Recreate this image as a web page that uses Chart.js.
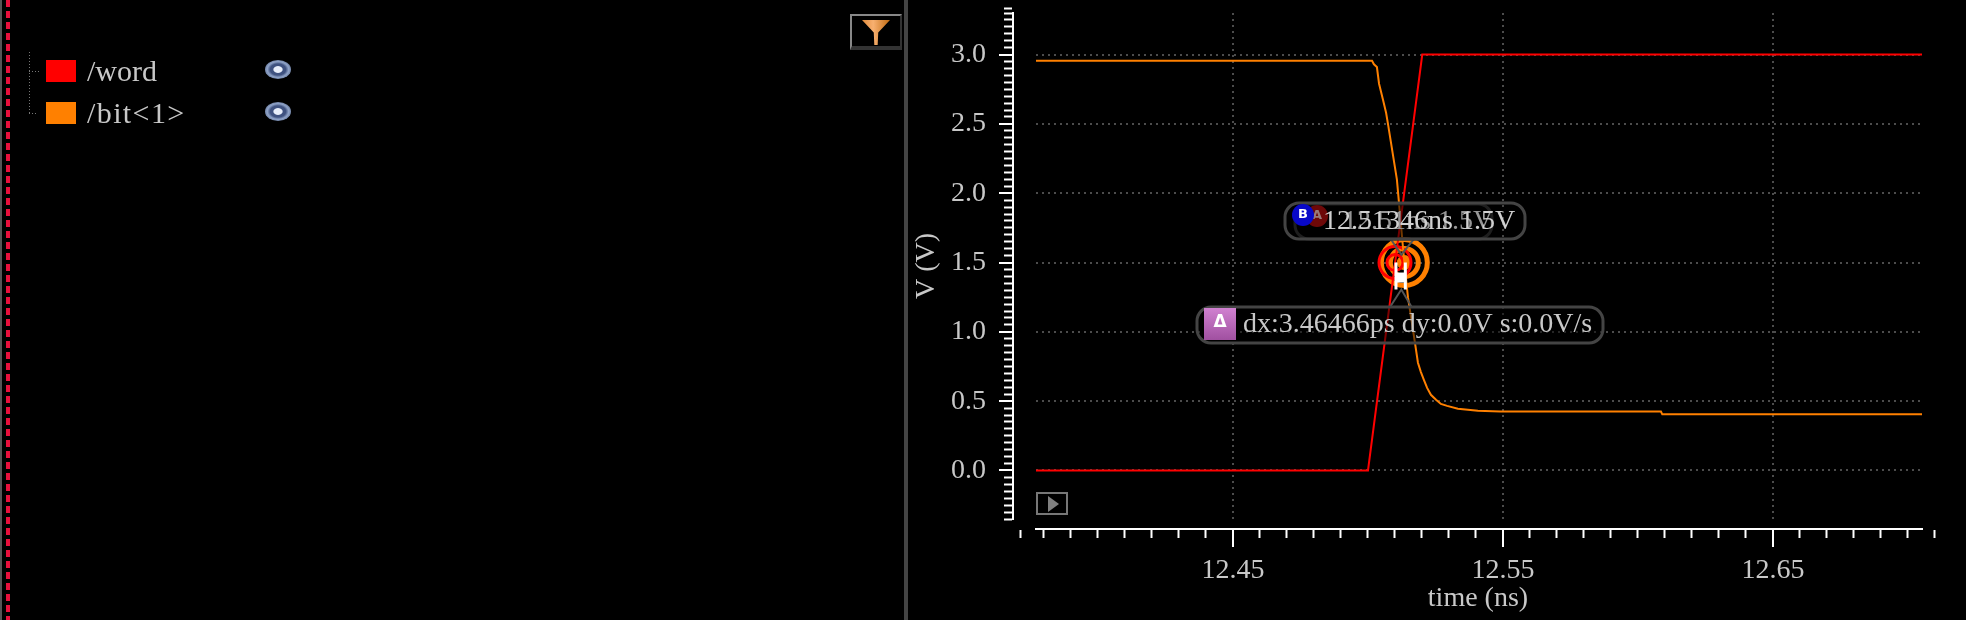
<!DOCTYPE html>
<html><head><meta charset="utf-8">
<style>
html,body{margin:0;padding:0;background:#000;overflow:hidden}
#wrap{position:relative;width:1966px;height:620px;background:#000}
canvas#c{position:absolute;left:0;top:0}
.abs{position:absolute}
.t{position:absolute;font:30px "Liberation Serif",serif;color:#c8c8c8;white-space:pre;line-height:32px}
</style>
<script src="https://cdn.jsdelivr.net/npm/chart.js@4/dist/chart.umd.min.js"></script>
</head><body><div id="wrap"><canvas id="c" width="1966" height="620"></canvas></div>
<script>
const seriesNames = ['/word','/bit<1>'];
const seriesColors = ['#ff0000','#ff8000'];
const wordT = [12.37704,12.5,12.5201,12.70519];
const wordV = [0,0,3,3];
const bitT = [12.37704,12.5015,12.5022,12.5033,12.5041,12.5056,12.5067,12.5074,12.5107,12.51346,12.5148,12.5174,12.5185,12.5196,12.5207,12.5219,12.5233,12.5252,12.527,12.5293,12.5333,12.5407,12.549,12.6085,12.609,12.70519];
const bitV = [2.955,2.955,2.93,2.91,2.79,2.67,2.58,2.5,2.1,1.5,1.25,0.92,0.777,0.71,0.654,0.596,0.546,0.51,0.48,0.466,0.445,0.43,0.425,0.425,0.405,0.405];
const xMajor = [12.45,12.55,12.65];
const xMinor = [12.3713,12.38,12.39,12.40,12.41,12.42,12.43,12.44,12.46,12.47,12.48,12.49,12.50,12.51,12.52,12.53,12.54,12.56,12.57,12.58,12.59,12.60,12.61,12.62,12.63,12.64,12.66,12.67,12.68,12.69,12.70,12.71];
const yMajor = [0,0.5,1,1.5,2,2.5,3];
const yMinor = [-0.35,-0.3,-0.25,-0.2,-0.15,-0.1,-0.05,0.05,0.1,0.15,0.2,0.25,0.3,0.35,0.4,0.45,0.55,0.6,0.65,0.7,0.75,0.8,0.85,0.9,0.95,1.05,1.1,1.15,1.2,1.25,1.3,1.35,1.4,1.45,1.55,1.6,1.65,1.7,1.75,1.8,1.85,1.9,1.95,2.05,2.1,2.15,2.2,2.25,2.3,2.35,2.4,2.45,2.55,2.6,2.65,2.7,2.75,2.8,2.85,2.9,2.95,3.05,3.1,3.15,3.2,3.25,3.3,3.335];
const cursorA = {t:12.51, v:1.5};
const cursorB = {t:12.51346, v:1.5};
const labelA = '12.51ns 1.5V';
const labelB = '12.51346ns 1.5V';
const labelD = 'dx:3.46466ps dy:0.0V s:0.0V/s';
const xTitle = 'time (ns)', yTitle = 'V (V)';
const X_MIN=12.37704, X_MAX=12.70519, Y_MIN=-0.35, Y_MAX=3.3;
const X_AXIS_AT=-0.421, Y_AXIS_AT=12.36852, Y_LABELS_AT=12.35852;

const wrap=document.getElementById('wrap');
function box(css){const d=document.createElement('div');d.className='abs';d.style.cssText+=css;wrap.appendChild(d);return d;}
box('left:0;top:0;width:2px;height:620px;background:#555');
box('left:6px;top:0;width:4px;height:620px;background:repeating-linear-gradient(#e8103c 0 7px,transparent 7px 11px)');
box('left:904px;top:0;width:4px;height:620px;background:#444');
const dotV='repeating-linear-gradient(#777 0 1px,transparent 1px 3px)', dotH='repeating-linear-gradient(90deg,#777 0 1px,transparent 1px 3px)';
box(`left:29px;top:52px;width:1px;height:61px;background:${dotV}`);
box(`left:29px;top:71px;width:11px;height:1px;background:${dotH}`);
box(`left:29px;top:113px;width:9px;height:1px;background:${dotH}`);
seriesNames.forEach((n,i)=>{
  const y=60+i*42;
  box(`left:46px;top:${y}px;width:30px;height:22px;background:${seriesColors[i]}`);
  const t=document.createElement('div');t.className='t';t.textContent=n;t.style.left='87px';t.style.top=(y-5)+'px';
  if(i===1)t.style.letterSpacing='1.4px';
  wrap.appendChild(t);
  box(`left:265px;top:${y}px;width:26px;height:19px;border-radius:50%;background:radial-gradient(ellipse at center,#e8eefa 0 22%,#3f5280 28% 42%,#8fa3c8 58%,#33415f 100%)`);
});
box('left:1036px;top:492px;width:28px;height:19px;border:2px solid #777');
box('left:1048px;top:496px;width:0;height:0;border-left:11px solid #808080;border-top:8px solid transparent;border-bottom:8px solid transparent');
box('left:850px;top:14px;width:48px;height:30px;border:2px solid #333;border-left-color:#888;border-top-color:#888;border-bottom:4px solid #333;background:#000');
box('left:862px;top:20px;width:28px;height:25px;background:linear-gradient(90deg,#e08a3a,#f8b070 40%,#c06a10);clip-path:polygon(0 0,100% 0,58% 50%,56% 100%,44% 100%,42% 50%)');

function pill(ctx,x,y,w,h,r,fill,stroke){
  ctx.beginPath();ctx.roundRect(x,y,w,h,r);ctx.fillStyle=fill;ctx.fill();ctx.lineWidth=3;ctx.strokeStyle=stroke;ctx.stroke();
}
function ball(ctx,x,y,r,col,letter,tcol){
  ctx.beginPath();ctx.arc(x,y,r,0,Math.PI*2);ctx.fillStyle=col;ctx.fill();
  ctx.fillStyle=tcol;ctx.font='bold 13px "DejaVu Sans"';ctx.textAlign='center';ctx.textBaseline='middle';ctx.fillText(letter,x,y);
}
const overlay={id:'overlay',afterDatasetsDraw(ch){
  const ctx=ch.ctx,sx=ch.scales.x,sy=ch.scales.y,ca=ch.chartArea;
  const ax=sx.getPixelForValue(cursorA.t),bx=sx.getPixelForValue(cursorB.t),cy=sy.getPixelForValue(cursorA.v);
  ctx.save();
  ctx.strokeStyle='#fff';ctx.lineWidth=3;ctx.beginPath();ctx.moveTo(ax+1,cy);ctx.lineTo(ax+1,cy+27);ctx.moveTo(bx+1,cy);ctx.lineTo(bx+1,cy+27);ctx.stroke();
  ctx.fillStyle='#fff';ctx.fillRect(ax+1,cy+10,bx-ax,10);
  ctx.strokeStyle='#555';ctx.lineWidth=2;ctx.beginPath();ctx.moveTo(bx-14,cy+44);ctx.lineTo(bx-3,cy+27);ctx.lineTo(bx+7,cy+44);ctx.stroke();
  ctx.beginPath();ctx.moveTo(bx-14,cy-24);ctx.lineTo(bx-3,cy-8);ctx.lineTo(bx+10,cy-24);ctx.stroke();
  pill(ctx,1295,204,197,35,14,'rgba(0,0,0,.5)','#222');
  ball(ctx,1317,216,11,'#7a0a0a','A','#a88');
  ctx.font='28px "Liberation Serif"';ctx.textAlign='left';ctx.textBaseline='middle';
  ctx.fillStyle='#a8a8a8';ctx.fillText(labelA,1343,222);
  pill(ctx,1285,203,240,36,14,'rgba(0,0,0,.1)','#444');
  ball(ctx,1303,215,11,'#0808c8','B','#fff');
  ctx.font='28px "Liberation Serif"';ctx.textAlign='left';ctx.textBaseline='middle';
  ctx.fillStyle='#d0d0d0';ctx.fillText(labelB,1323,222);
  pill(ctx,1197,307,406,36,14,'rgba(0,0,0,.5)','#444');
  const g=ctx.createLinearGradient(0,308,0,340);g.addColorStop(0,'#d080d0');g.addColorStop(1,'#a050a0');
  ctx.fillStyle=g;ctx.fillRect(1204,308,32,32);
  ctx.fillStyle='#fff';ctx.font='bold 17px "DejaVu Sans"';ctx.textAlign='center';ctx.fillText('\u0394',1220,323);
  ctx.font='28px "Liberation Serif"';ctx.textAlign='left';ctx.fillStyle='#c8c8c8';ctx.fillText(labelD,1243,325);
  ctx.font='28px "Liberation Serif"';ctx.textAlign='center';ctx.fillStyle='#c8c8c8';
  ctx.fillText(xTitle,(ca.left+ca.right)/2-1,599);
  ctx.translate(927,(ca.top+ca.bottom)/2);ctx.rotate(-Math.PI/2);ctx.fillText(yTitle,0,0);
  ctx.restore();
}};
function ring(t,v,r,w,color,fill){
  return {data:[{x:t,y:v}],showLine:false,pointRadius:r,pointHoverRadius:r,pointBorderWidth:w,pointBorderColor:color,pointBackgroundColor:fill||'transparent'};
}
function zip(a,b){return a.map((t,i)=>({x:t,y:b[i]}));}
const font={family:'"Liberation Serif"',size:28};
new Chart(document.getElementById('c'),{
  type:'line',
  plugins:[overlay],
  data:{datasets:[
    {data:zip(wordT,wordV),borderColor:seriesColors[0],borderWidth:2,pointRadius:0,tension:0},
    {data:zip(bitT,bitV),borderColor:seriesColors[1],borderWidth:2,pointRadius:0,tension:0},
    ring(cursorA.t,cursorA.v,16,3,seriesColors[0]),
    ring(cursorA.t,cursorA.v,8,3,seriesColors[0]),
    ring(cursorB.t,cursorB.v,23,5,seriesColors[1]),
    ring(cursorB.t,cursorB.v,14,5,seriesColors[1]),
    ring(cursorB.t,cursorB.v,7,1,seriesColors[1],seriesColors[1])
  ]},
  options:{
    responsive:false,animation:false,
    layout:{autoPadding:false,padding:{left:1036,right:44,top:13,bottom:101}},
    plugins:{legend:{display:false},tooltip:{enabled:false}},
    scales:{
      x:{type:'linear',min:X_MIN,max:X_MAX,position:{y:X_AXIS_AT},
        afterBuildTicks(s){s.ticks=xMajor.map(v=>({value:v}));},
        ticks:{color:'#c8c8c8',font,padding:8,maxRotation:0,autoSkip:false,callback:v=>v.toFixed(2)},
        grid:{color:'#4c4c4c',lineWidth:2,tickColor:'#fff',tickWidth:2,tickLength:17},
        border:{color:'#fff',width:2,dash:[2,4]}},
      x2:{type:'linear',axis:'x',min:X_MIN,max:X_MAX,position:{y:X_AXIS_AT},
        afterBuildTicks(s){s.ticks=xMinor.map(v=>({value:v}));},
        ticks:{display:false,autoSkip:false},
        grid:{drawOnChartArea:false,tickColor:'#fff',tickWidth:2,tickLength:8},
        border:{color:'#fff',width:2}},
      y:{type:'linear',min:Y_MIN,max:Y_MAX,position:{x:Y_AXIS_AT},
        afterBuildTicks(s){s.ticks=yMajor.map(v=>({value:v}));},
        ticks:{display:false,autoSkip:false},
        grid:{color:'#4c4c4c',lineWidth:2,tickColor:'#fff',tickWidth:2,tickLength:13},
        border:{color:'#fff',width:2,dash:[2,4]}},
      y2:{type:'linear',axis:'y',min:Y_MIN,max:Y_MAX,position:{x:Y_AXIS_AT},
        afterBuildTicks(s){s.ticks=yMinor.map(v=>({value:v}));},
        ticks:{display:false,autoSkip:false},
        grid:{drawOnChartArea:false,tickColor:'#fff',tickWidth:2,tickLength:8},
        border:{color:'#fff',width:2}},
      yLabels:{type:'linear',axis:'y',min:Y_MIN,max:Y_MAX,position:{x:Y_LABELS_AT},
        afterBuildTicks(s){s.ticks=yMajor.map(v=>({value:v}));},
        afterFit(s){s.paddingTop=0;s.paddingBottom=0;},
        ticks:{color:'#c8c8c8',font,padding:0,autoSkip:false,callback:v=>v.toFixed(1)},
        grid:{display:false},border:{display:false}}
    }
  }
});
</script></body></html>
